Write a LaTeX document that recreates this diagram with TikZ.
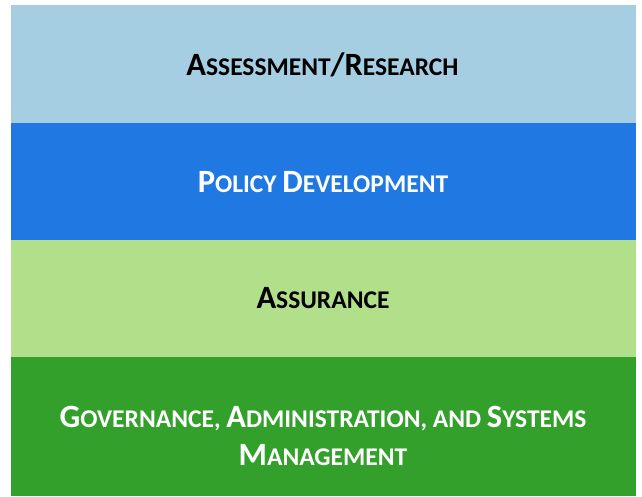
\documentclass[tikz,border=0pt]{standalone}
\usepackage{fontspec}
\setmainfont{Carlito}
\definecolor{bandA}{HTML}{A6CEE3}
\definecolor{bandB}{HTML}{2078E2}
\definecolor{bandC}{HTML}{B2DF8A}
\definecolor{bandD}{HTML}{33A02C}
% large capital and small-cap sized letters
\newcommand\lgcap[1]{{\fontsize{32.5}{36}\selectfont #1}}
\newcommand\smcap[1]{{\fontsize{25.5}{30}\selectfont #1}}
\begin{document}
\begin{tikzpicture}[x=1pt,y=-1pt,
  label/.style={font=\bfseries\fontsize{25.5}{30}\selectfont, anchor=base, inner sep=0pt}]
\useasboundingbox (0,0) rectangle (642,496);
\fill[white] (0,0) rectangle (642,496);
\fill[bandA] (11,5) rectangle (636,122.5);
\fill[bandB] (11,122.5) rectangle (636,240);
\fill[bandC] (11,240) rectangle (636,357);
\fill[bandD] (11,357) rectangle (636,496);
\node[label, text=black] (t1) at (322.5,75) {\lgcap{A}\smcap{SSESSMENT}\lgcap{/R}\smcap{ESEARCH}};
\node[label, text=white] (t2) at (323,192) {\lgcap{P}\smcap{OLICY} \lgcap{D}\smcap{EVELOPMENT}};
\node[label, text=black] (t3) at (323,308) {\lgcap{A}\smcap{SSURANCE}};
\node[label, text=white] (t4) at (323,427) {\lgcap{G}\smcap{OVERNANCE,} \lgcap{A}\smcap{DMINISTRATION,} \smcap{AND} \lgcap{S}\smcap{YSTEMS}};
\node[label, text=white] (t5) at (323,465) {\lgcap{M}\smcap{ANAGEMENT}};
\end{tikzpicture}
\end{document}
